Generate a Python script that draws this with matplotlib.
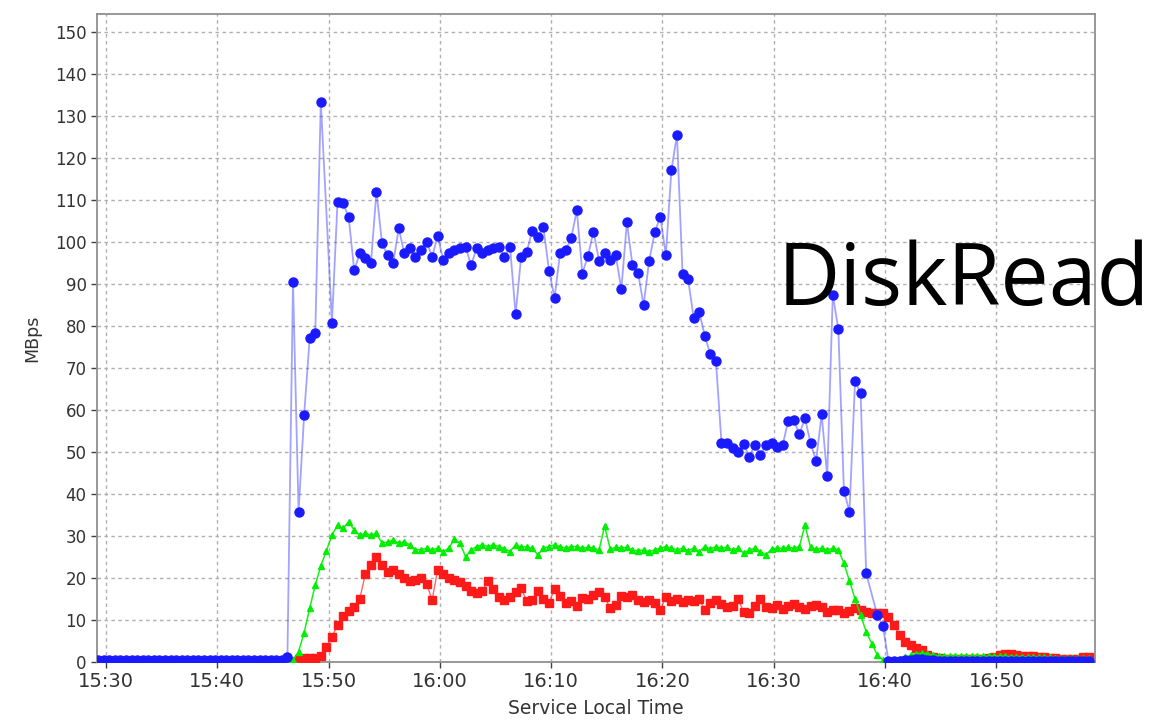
import numpy as np
import matplotlib
matplotlib.use("Agg")
import matplotlib.pyplot as plt

# Sample clock: minutes after 15:30, one sample every 30 s
t_start = -0.7
step = 0.5

# Read throughput (MBps) per sample; None = no sample recorded
blue_vals = [
    0.4, 0.4, 0.4, 0.4, 0.4, 0.4, 0.4, 0.4, 0.4, 0.4,
    0.4, 0.4, 0.4, 0.4, 0.4, 0.4, 0.4, 0.4, 0.4, 0.4,
    0.4, 0.4, 0.4, 0.4, 0.4, 0.4, 0.4, 0.4, 0.4, 0.4,
    0.4, 0.4, 0.4, 0.4, 1.3, 90.5, 35.8, 58.8, 77.1, 78.3,
    133.4, None, 80.8, 109.6, 109.2, 106.0, 93.3, 97.3, 96.1, 94.9,
    112.0, 99.7, 96.9, 94.9, 103.3, 97.3, 98.5, 96.5, 98.1, 100.1,
    96.5, 101.4, 95.7, 97.3, 98.2, 98.5, 98.9, 94.5, 98.5, 97.3,
    98.1, 98.5, 98.9, 96.5, 98.9, 82.8, 96.5, 97.7, 102.7, 101.3,
    103.5, 93.2, 86.7, 97.5, 98.1, 100.9, 107.6, 92.5, 96.7, 102.5,
    95.5, 97.5, 95.7, 96.9, 88.7, 104.7, 94.5, 92.7, 85.0, 95.5,
    102.3, 106.0, 96.9, 117.1, 125.5, 92.4, 91.1, 82.0, 83.4, 77.6,
    73.3, 71.7, 52.2, 52.1, 50.9, 50.1, 51.9, 48.9, 51.7, 49.3,
    51.7, 52.2, 51.1, 51.7, 57.5, 57.6, 54.2, 58.0, 52.2, 47.9,
    59.0, 44.2, 87.5, 79.2, 40.8, 35.8, 66.9, 64.0, 21.1, None,
    11.2, 8.6, 0.3, 0.3, 0.3, 0.4, 0.5, 0.6, 0.6, 0.5,
    0.4, 0.3, 0.3, 0.3, 0.3, 0.3, 0.3, 0.3, 0.3, 0.3,
    0.3, 0.3, 0.3, 0.3, 0.3, 0.3, 0.3, 0.3, 0.3, 0.3,
    0.3, 0.3, 0.3, 0.3, 0.3, 0.3, 0.3, 0.3, 0.3,
]

green_vals = [
    0.4, 0.4, 0.4, 0.4, 0.4, 0.4, 0.4, 0.4, 0.4, 0.4,
    0.4, 0.4, 0.4, 0.4, 0.4, 0.4, 0.4, 0.4, 0.4, 0.4,
    0.4, 0.4, 0.4, 0.4, 0.4, 0.4, 0.4, 0.4, 0.4, 0.4,
    0.4, 0.4, 0.4, 0.4, 0.4, 0.4, 2.5, 7.0, 12.8, 18.3,
    22.9, 26.5, 30.2, 32.6, 31.8, 33.4, 31.4, 30.2, 30.6, 30.2,
    30.6, 28.3, 28.6, 29.0, 28.3, 28.6, 27.9, 26.7, 26.7, 27.1,
    26.7, 27.1, 26.3, 27.1, 29.3, 28.3, 25.1, 26.7, 27.5, 27.9,
    27.5, 27.9, 27.5, 27.0, 26.3, 27.9, 27.3, 27.5, 27.1, 25.5,
    27.1, 27.5, 27.9, 27.5, 27.1, 27.5, 27.5, 27.1, 27.3, 27.1,
    26.7, 32.4, 26.9, 27.3, 27.1, 27.3, 26.7, 26.5, 26.7, 26.3,
    26.7, 27.1, 27.5, 27.1, 26.7, 27.1, 26.5, 27.1, 26.3, 27.5,
    26.9, 27.5, 27.1, 27.3, 26.7, 27.1, 25.9, 26.7, 27.1, 26.3,
    25.5, 26.9, 27.1, 27.1, 27.3, 27.1, 27.5, 32.6, 27.3, 26.9,
    27.1, 26.7, 27.1, 26.7, 23.5, 19.3, 15.0, 11.2, 7.2, 4.4,
    1.7, 0.5, 0.3, 0.5, 0.8, 1.2, 1.6, 2.0, 2.2, 2.0,
    1.7, 1.5, 1.5, 1.4, 1.5, 1.4, 1.4, 1.5, 1.4, 1.4,
    1.4, 1.5, 1.4, 1.4, 1.3, 1.3, 1.3, 1.2, 1.2, 1.2,
    1.1, 1.1, 1.0, 1.0, 1.0, 0.9, 0.9, 0.9, 0.9,
]

red_vals = [
    0.3, 0.3, 0.3, 0.3, 0.3, 0.3, 0.3, 0.3, 0.3, 0.3,
    0.3, 0.3, 0.3, 0.3, 0.3, 0.3, 0.3, 0.3, 0.3, 0.3,
    0.3, 0.3, 0.3, 0.3, 0.3, 0.3, 0.3, 0.3, 0.3, 0.3,
    0.3, 0.3, 0.3, 0.3, 0.3, 0.3, 0.8, 1.0, 1.0, 1.0,
    1.5, 3.5, 6.0, 8.8, 11.0, 12.2, 13.0, 15.0, 21.0, 23.0,
    25.0, 23.0, 21.5, 21.9, 21.0, 20.0, 19.3, 19.5, 19.9, 18.6,
    14.8, 21.9, 20.9, 20.0, 19.5, 19.1, 18.2, 17.0, 16.4, 16.8,
    19.3, 17.3, 15.5, 14.8, 15.5, 16.7, 17.6, 14.5, 14.8, 16.8,
    15.0, 14.0, 17.5, 15.8, 14.0, 14.6, 13.3, 15.2, 15.0, 16.0,
    16.7, 15.5, 12.8, 13.5, 15.7, 15.5, 15.9, 14.8, 14.3, 14.8,
    14.0, 12.4, 15.5, 14.6, 15.0, 14.3, 14.8, 14.5, 15.0, 12.4,
    14.0, 14.8, 13.8, 13.0, 13.3, 15.0, 11.8, 11.6, 13.3, 15.0,
    13.0, 12.8, 13.5, 12.6, 13.3, 13.8, 13.0, 12.6, 13.3, 13.6,
    13.0, 12.0, 12.4, 12.4, 11.6, 12.2, 12.8, 12.4, 11.8, 11.6,
    11.6, 11.6, 10.8, 8.8, 6.4, 4.8, 4.0, 3.3, 2.9, 1.7,
    1.2, 0.9, 0.8, 0.8, 0.8, 0.8, 0.7, 0.7, 0.8, 0.8,
    0.9, 1.2, 1.6, 1.9, 1.8, 1.6, 1.5, 1.5, 1.4, 1.3,
    1.2, 1.0, 0.9, 0.8, 0.7, 0.6, 0.8, 1.2, 1.1,
]

tick_minutes = [0, 10, 20, 30, 40, 50, 60, 70, 80]
tick_labels = ["15:30", "15:40", "15:50", "16:00", "16:10", "16:20", "16:30", "16:40", "16:50"]
y_ticks = list(range(0, 151, 10))


def series(vals):
    t = t_start + step * np.arange(len(vals))
    keep = [v is not None for v in vals]
    return t[keep], np.array([v for v in vals if v is not None], dtype=float)


fig = plt.figure(figsize=(11.75, 7.26), dpi=100)
ax = fig.add_axes([97 / 1175, 1 - 662 / 726, (1095 - 97) / 1175, (662 - 14) / 726])

tr, vr = series(red_vals)
tg, vg = series(green_vals)
tb, vb = series(blue_vals)

ax.plot(tr, vr, color="#ff0000", lw=1.0, alpha=0.6, zorder=2)
ax.plot(tr, vr, ls="none", marker="s", ms=6.0, color="#ff1a1a", mec="#ff1a1a", zorder=3)
ax.plot(tg, vg, color="#00ee00", lw=1.1, alpha=0.9, zorder=4)
ax.plot(tg, vg, ls="none", marker="^", ms=4.8, color="#00ee00", mec="#00ee00", zorder=5)
ax.plot(tb, vb, color="#3333ff", lw=1.3, alpha=0.45, zorder=6)
ax.plot(tb, vb, ls="none", marker="o", ms=6.5, color="#1a1aff", mec="#1a1aff", zorder=7)

ax.set_xlim(-0.81, 88.86)
ax.set_ylim(0, 154.3)
ax.set_xticks(tick_minutes)
ax.set_xticklabels(tick_labels)
ax.set_yticks(y_ticks)

ax.grid(True, color="#b0b0b0", linestyle=(0, (2.5, 2.5)), linewidth=1.0)
ax.set_axisbelow(True)
for s in ax.spines.values():
    s.set_color("#909090")
    s.set_linewidth(1.3)
ax.tick_params(axis="both", colors="#404040", labelsize=12, length=4, width=1.0)
ax.tick_params(axis="x", labelsize=14, pad=3)
for lab in ax.get_xticklabels() + ax.get_yticklabels():
    lab.set_color("#333333")

ax.set_xlabel("Service Local Time", fontsize=13.5, color="#333333", labelpad=6)
ax.set_ylabel("MBps", fontsize=12.5, color="#333333", labelpad=10)

fig.text(778 / 1175, 1 - 305 / 726, "DiskRead", fontsize=62, family="Open Sans",
         color="black", ha="left", va="baseline")

fig.savefig("out.png", dpi=100)
